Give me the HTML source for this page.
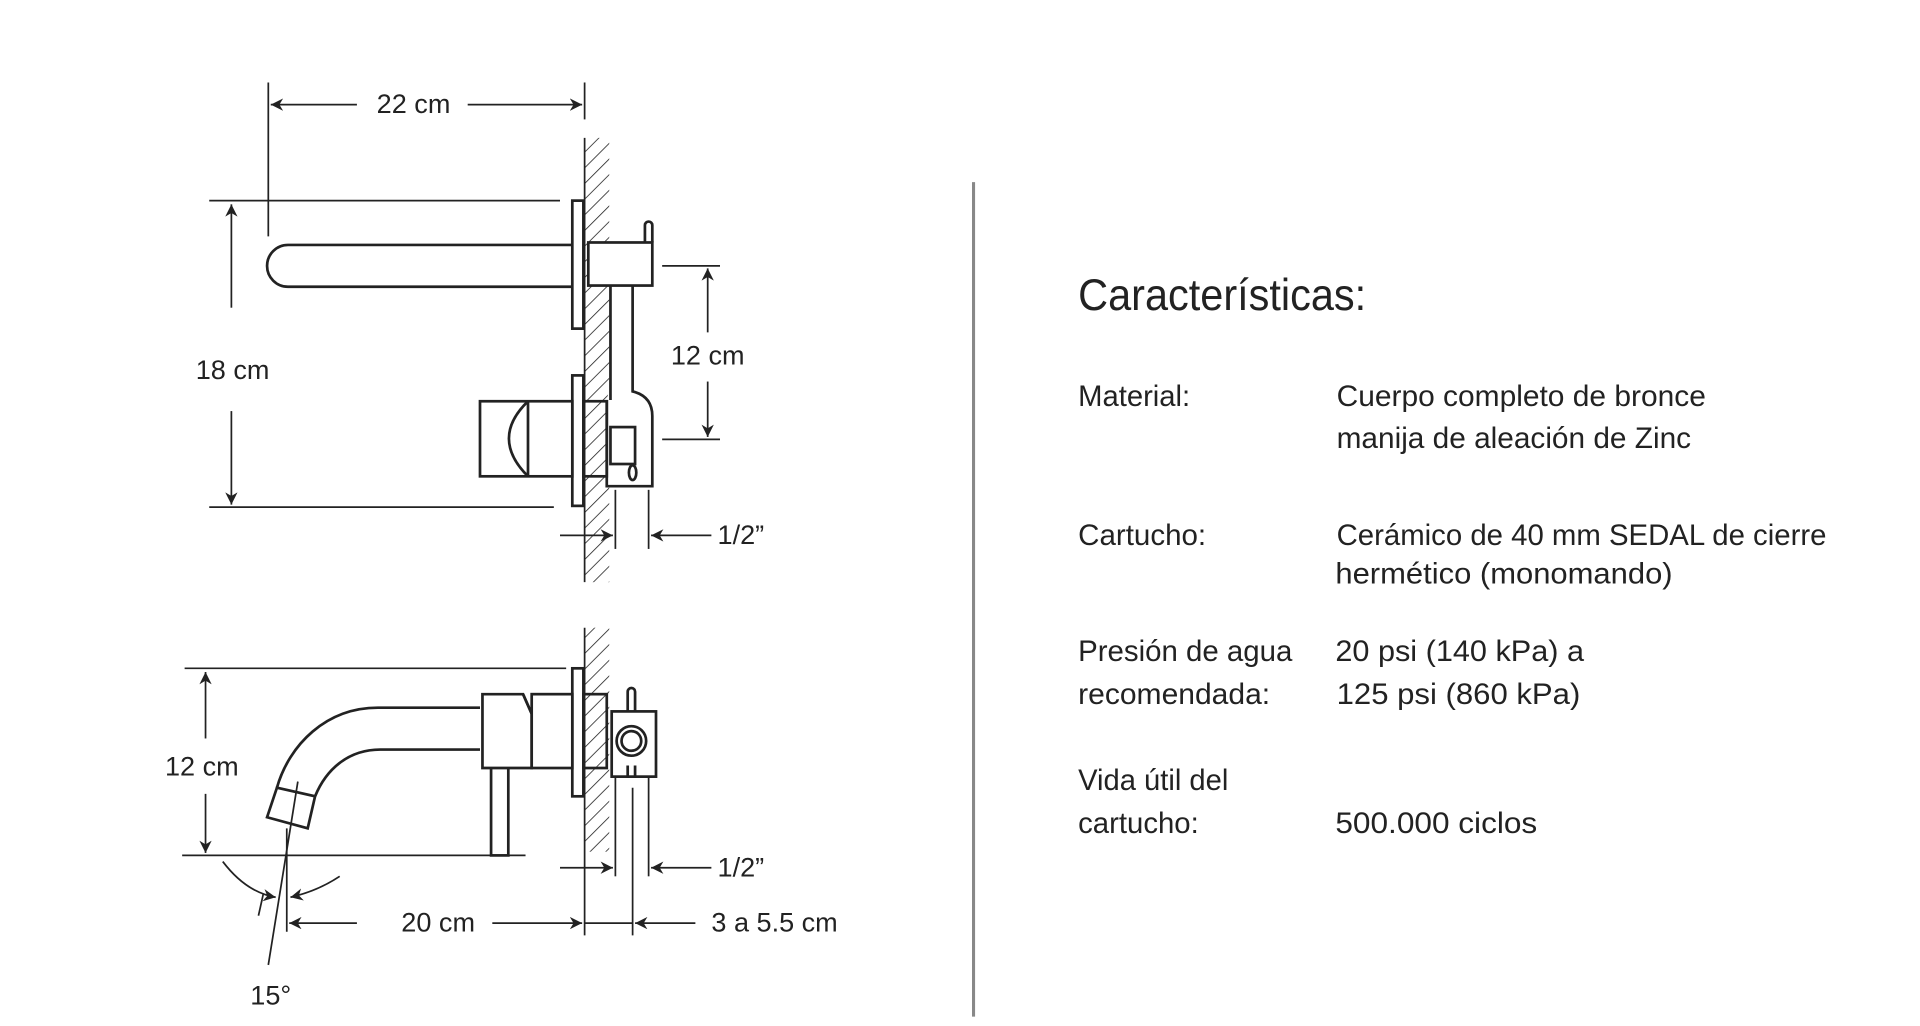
<!DOCTYPE html>
<html><head><meta charset="utf-8"><style>
html,body{margin:0;padding:0;background:#fff;}
svg{display:block}
text{font-family:"Liberation Sans",sans-serif;fill:#222}
</style></head><body>
<svg width="1920" height="1026" viewBox="0 0 1560 833.6" xmlns="http://www.w3.org/2000/svg">
<defs>
<marker id="a" viewBox="0 0 10 10" refX="10" refY="5" markerWidth="10" markerHeight="10" orient="auto-start-reverse" markerUnits="userSpaceOnUse"><path d="M0,0 L10,5 L0,10 L3,5 z" fill="#222"/></marker>
<pattern id="h" width="9" height="9" patternUnits="userSpaceOnUse" patternTransform="rotate(45)"><line x1="0" y1="0" x2="0" y2="9" stroke="#222" stroke-width="1.3"/></pattern>
</defs>
<rect width="1560" height="834" fill="#fff"/>
<g fill="none" stroke="#222" stroke-width="1.4">
<line x1="218" y1="67" x2="218" y2="192"/>
<line x1="475" y1="67" x2="475" y2="97"/>
<line x1="290" y1="85" x2="220" y2="85" marker-end="url(#a)"/>
<line x1="380" y1="85" x2="473" y2="85" marker-end="url(#a)"/>
<rect x="475" y="112" width="20" height="361" fill="url(#h)" stroke="none"/>
<line x1="475" y1="112" x2="475" y2="473"/>
<line x1="170" y1="163" x2="455" y2="163"/>
<line x1="170" y1="412" x2="450" y2="412"/>
<line x1="188" y1="250" x2="188" y2="166" marker-end="url(#a)"/>
<line x1="188" y1="334" x2="188" y2="410" marker-end="url(#a)"/>
<g stroke-width="2.2">
<rect x="465" y="163" width="9" height="104" fill="#fff"/>
<rect x="465" y="305" width="9" height="106" fill="#fff"/>
<path d="M465,199 H234 A17,17 0 0 0 234,233 H465"/>
<rect x="478" y="197" width="52" height="35" fill="#fff"/>
<path d="M524,197 V183 A3,3 0 0 1 530,183 V197"/>
<path d="M496,232 V325 M514,232 V318 Q530,322 530,338 V395 H493 V325" fill="#fff"/>
<rect x="390" y="326" width="75" height="61" fill="#fff"/>
<line x1="429" y1="326" x2="429" y2="387"/>
<path d="M429,326 Q398,356 429,387"/>
<rect x="474" y="326" width="19" height="61"/>
<rect x="496" y="347" width="20" height="30"/>
<ellipse cx="514" cy="384" rx="3" ry="6"/>
</g>
<line x1="538" y1="216" x2="585" y2="216"/>
<line x1="538" y1="357" x2="585" y2="357"/>
<line x1="575" y1="270" x2="575" y2="218" marker-end="url(#a)"/>
<line x1="575" y1="310" x2="575" y2="355" marker-end="url(#a)"/>
<line x1="500" y1="398" x2="500" y2="446"/>
<line x1="527" y1="398" x2="527" y2="446"/>
<line x1="455" y1="435" x2="498" y2="435" marker-end="url(#a)"/>
<line x1="578" y1="435" x2="529" y2="435" marker-end="url(#a)"/>

<rect x="475" y="510" width="20" height="182" fill="url(#h)" stroke="none"/>
<line x1="475" y1="510" x2="475" y2="760"/>
<line x1="150" y1="543" x2="460" y2="543"/>
<line x1="148" y1="695" x2="427" y2="695"/>
<line x1="167" y1="600" x2="167" y2="546" marker-end="url(#a)"/>
<line x1="167" y1="645" x2="167" y2="693" marker-end="url(#a)"/>
<g stroke-width="2.2">
<rect x="465" y="543" width="9" height="104" fill="#fff"/>
<path d="M390,575 H307 C265,575 235,605 225,640 M390,609 H309 C283,609 265,625 256,647"/>
<path d="M225,640 L256,647 L250,673 L217,664 Z"/>
<rect x="399" y="621" width="14" height="74" fill="#fff"/>
<path d="M392,564 H425 L432,580 V624 H392 Z" fill="#fff"/>
<path d="M425,564 L440,598"/>
<rect x="432" y="564" width="33" height="60" fill="#fff"/>
<rect x="474" y="564" width="19" height="60"/>
<rect x="497" y="578" width="36" height="53" fill="#fff"/>
<circle cx="513" cy="602" r="12"/>
<circle cx="513" cy="602" r="8"/>
<path d="M510,578 V562 A3,3 0 0 1 516,562 V578 M510,622 V632 M516,622 V632"/>
</g>
<line x1="242" y1="635" x2="218" y2="784"/>
<line x1="233" y1="673" x2="233" y2="757"/>
<path d="M181,700 Q200,725 224,729" marker-end="url(#a)"/>
<path d="M276,712 Q258,724 236,729" marker-end="url(#a)"/>
<path d="M214,726 L210,744"/>
<line x1="290" y1="750" x2="235" y2="750" marker-end="url(#a)"/>
<line x1="400" y1="750" x2="473" y2="750" marker-end="url(#a)"/>
<line x1="500" y1="631" x2="500" y2="712"/>
<line x1="514" y1="640" x2="514" y2="760"/>
<line x1="527" y1="631" x2="527" y2="712"/>
<line x1="455" y1="705" x2="498" y2="705" marker-end="url(#a)"/>
<line x1="578" y1="705" x2="529" y2="705" marker-end="url(#a)"/>
<line x1="475" y1="750" x2="514" y2="750"/>
<line x1="565" y1="750" x2="516" y2="750" marker-end="url(#a)"/>
</g>
<g font-size="22">
<text x="336" y="92" text-anchor="middle">22 cm</text>
<text x="189" y="308" text-anchor="middle">18 cm</text>
<text x="575" y="296" text-anchor="middle">12 cm</text>
<text x="583" y="442">1/2”</text>
<text x="164" y="630" text-anchor="middle">12 cm</text>
<text x="583" y="712">1/2”</text>
<text x="356" y="757" text-anchor="middle">20 cm</text>
<text x="578" y="757">3 a 5.5 cm</text>
<text x="220" y="816" text-anchor="middle">15°</text>
</g>
<line x1="791" y1="148" x2="791" y2="826" stroke="#888" stroke-width="2.5"/>
<text x="876" y="252" font-size="36" textLength="234" lengthAdjust="spacingAndGlyphs">Características:</text>
<g font-size="24">
<text x="876" y="330" textLength="91" lengthAdjust="spacingAndGlyphs">Material:</text>
<text x="1086" y="330" textLength="300" lengthAdjust="spacingAndGlyphs">Cuerpo completo de bronce</text>
<text x="1086" y="364" textLength="288" lengthAdjust="spacingAndGlyphs">manija de aleación de Zinc</text>
<text x="876" y="443" textLength="104" lengthAdjust="spacingAndGlyphs">Cartucho:</text>
<text x="1086" y="443" textLength="398" lengthAdjust="spacingAndGlyphs">Cerámico de 40 mm SEDAL de cierre</text>
<text x="1085" y="474" textLength="274" lengthAdjust="spacingAndGlyphs">hermético (monomando)</text>
<text x="876" y="537" textLength="174" lengthAdjust="spacingAndGlyphs">Presión de agua</text>
<text x="876" y="572" textLength="156" lengthAdjust="spacingAndGlyphs">recomendada:</text>
<text x="1085" y="537" textLength="202" lengthAdjust="spacingAndGlyphs">20 psi (140 kPa) a</text>
<text x="1086" y="572" textLength="198" lengthAdjust="spacingAndGlyphs">125 psi (860 kPa)</text>
<text x="876" y="642" textLength="122" lengthAdjust="spacingAndGlyphs">Vida útil del</text>
<text x="876" y="677" textLength="98" lengthAdjust="spacingAndGlyphs">cartucho:</text>
<text x="1085" y="677" textLength="164" lengthAdjust="spacingAndGlyphs">500.000 ciclos</text>
</g>
</svg>
</body></html>
